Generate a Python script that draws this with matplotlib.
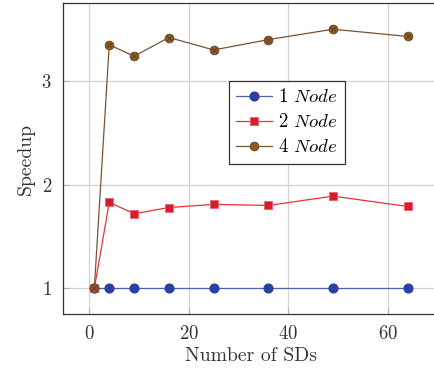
import matplotlib
matplotlib.use("Agg")
import matplotlib.pyplot as plt

plt.rcParams['font.family'] = 'cmr10'
plt.rcParams['mathtext.fontset'] = 'cm'
plt.rcParams['axes.formatter.use_mathtext'] = True

sds = [1, 4, 9, 16, 25, 36, 49, 64]
node1 = [1, 1, 1, 1, 1, 1, 1, 1]
node2 = [1, 1.83, 1.72, 1.78, 1.81, 1.80, 1.89, 1.79]
node4 = [1, 3.35, 3.24, 3.42, 3.30, 3.40, 3.50, 3.43]
labels = ['1 $Node$', '2 $Node$', '4 $Node$']
xticks = [0, 20, 40, 60]
yticks = [1, 2, 3]

fig = plt.figure(figsize=(4.34, 3.69), dpi=100)
ax = fig.add_axes([63/434, 54.7/369, 376/434, 311/369])

ax.plot(sds, node1, color='#4d66b3', lw=0.9, marker='o', ms=6.3,
        mfc='#2b40a0', mec='#2b40a0', label=labels[0], zorder=3)
ax.plot(sds, node2, color='#e8323c', lw=0.9, marker='s', ms=6.3,
        mfc='#d21f2b', mec='#f06070', mew=0.6, label=labels[1], zorder=3)
ax.plot(sds, node4, color='#7a5431', lw=0.9, marker='o', ms=6.3,
        mfc='#8c5a2b', mec='#6a4520', mew=0.6, label=labels[2], zorder=3)
ax.plot(sds, node4, ls='none', marker='x', ms=4.2, mec='#5a3a1a', mew=0.5, zorder=4)

ax.set_xlim(-5.3, 70.3)
ax.set_ylim(0.75, 3.75)
ax.set_xticks(xticks)
ax.set_yticks(yticks)
ax.grid(True, color='#d4d4d4', lw=0.9)
ax.set_axisbelow(True)
ax.tick_params(direction='in', length=4, color='#b0b0b0', labelsize=13.5, pad=8)
for s in ax.spines.values():
    s.set_linewidth(0.9)
    s.set_color('#333333')

ax.set_xlabel('Number of SDs', fontsize=14.2, labelpad=3, color='#333333')
ax.set_ylabel('Speedup', fontsize=14.2, labelpad=5, color='#333333')
for t in ax.get_xticklabels() + ax.get_yticklabels():
    t.set_color('#333333')

leg = ax.legend(loc='upper left', bbox_to_anchor=(0.441, 0.751), fancybox=False,
                edgecolor='#333333', framealpha=1, fontsize=13.5, handlelength=1.9,
                handletextpad=0.3, borderpad=0.4, labelspacing=0.38, borderaxespad=0)
leg.get_frame().set_linewidth(0.9)

fig.savefig('out.png', dpi=100)
